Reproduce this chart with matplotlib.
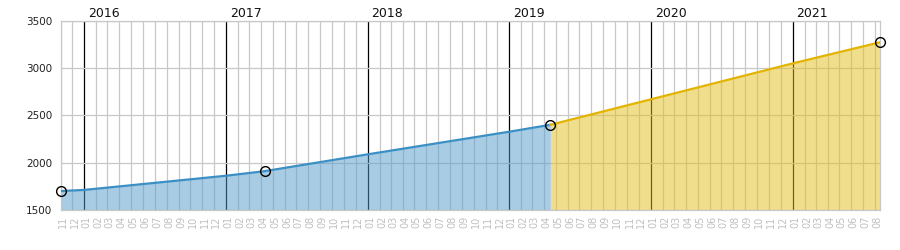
import matplotlib
matplotlib.use('Agg')
import matplotlib.pyplot as plt
import matplotlib.dates as mdates
import numpy as np
import pandas as pd

# Months shown on the x axis (gridline at each month start)
months = pd.date_range('2015-11-01', '2021-08-01', freq='MS')
x_end = '2021-08-14'

# Values (blue = history, yellow = projection)
blue_dates = ['2015-11-01', '2016-01-01', '2017-01-01', '2017-04-10',
              '2018-01-01', '2019-01-01', '2019-04-17']
blue_values = [1700, 1712, 1862, 1910, 2088, 2327, 2400]
yellow_dates = ['2019-04-17', '2020-01-01', '2021-01-01', '2021-08-14']
yellow_values = [2400, 2669, 3049, 3272]

# Marked points
marker_dates = ['2015-11-01', '2017-04-10', '2019-04-17', '2021-08-14']
marker_values = [1700, 1910, 2400, 3272]

y_ticks = [1500, 2000, 2500, 3000, 3500]


def to_x(dates):
    return mdates.date2num(pd.to_datetime(dates))


fig = plt.figure(figsize=(9, 2.5), dpi=100)
ax = fig.add_axes([60.5 / 900, 1 - 210 / 250, (880 - 60.5) / 900, (210 - 20.7) / 250])

x_months = to_x(months)
ax.set_xlim(x_months[0], to_x([x_end])[0])
ax.set_ylim(1500, 3500)

# grid: light grey for months, black for january
for xm, m in zip(x_months, months):
    col = '#000000' if m.month == 1 else '#c8c8c8'
    ax.axvline(xm, color=col, lw=0.9, zorder=1)
for yv in y_ticks:
    ax.axhline(yv, color='#c8c8c8', lw=0.9, zorder=1)

# areas
xb = to_x(blue_dates)
xy = to_x(yellow_dates)
ax.fill_between(xb, 1500, blue_values, color='#539bc9', alpha=0.5, lw=0, zorder=2)
ax.fill_between(xy, 1500, yellow_values, color='#e5bf1d', alpha=0.5, lw=0, zorder=2)
ax.plot(xb, blue_values, color='#3a8fc4', lw=1.6, zorder=3)
ax.plot(xy, yellow_values, color='#e2b400', lw=1.6, zorder=3)

ax.plot(to_x(marker_dates), marker_values, 'o', ms=7, mfc='none',
        mec='black', mew=1.0, zorder=4, clip_on=False)

# axes styling
for s in ax.spines.values():
    s.set_color('#c8c8c8')
    s.set_linewidth(0.9)

ax.set_yticks(y_ticks)
ax.set_yticklabels([str(v) for v in y_ticks], fontsize=7.5, color='#222222')
ax.tick_params(axis='y', length=0, pad=6)

# month labels sit a few days right of the gridline
ax.set_xticks(x_months + 6)
ax.set_xticklabels(['%02d' % m.month for m in months], rotation=90,
                   fontsize=7, color='#c0c0c0')
ax.tick_params(axis='x', length=0, pad=4)

# year labels on top
for xm, m in zip(x_months, months):
    if m.month == 1:
        ax.text(xm + 10, 1.02, str(m.year), transform=ax.get_xaxis_transform(),
                ha='left', va='baseline', fontsize=9, color='#111111')

fig.savefig('out.png', dpi=100)
